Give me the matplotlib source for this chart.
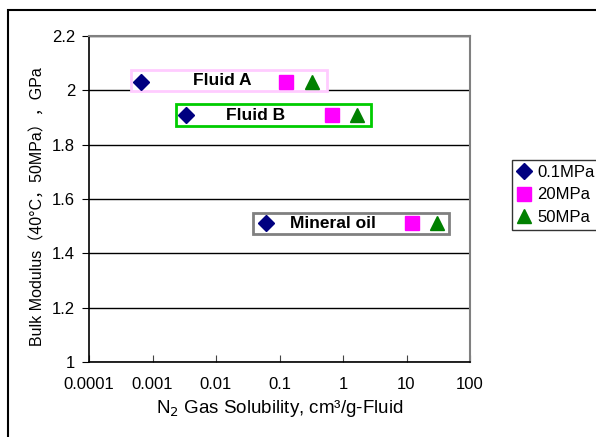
import numpy as np
import matplotlib.pyplot as plt
from matplotlib.patches import Rectangle
from matplotlib.ticker import FixedLocator, FixedFormatter, NullLocator

plt.rcParams['font.family'] = ['Liberation Sans', 'Noto Sans CJK JP', 'DejaVu Sans']

# data
fluids = ["Fluid A", "Fluid B", "Mineral oil"]
pressures = ["0.1MPa", "20MPa", "50MPa"]
# N2 solubility [cm3/g] per fluid, columns = pressures
solubility = [[0.00066, 0.125, 0.32],
              [0.0034, 0.68, 1.66],
              [0.062, 12.3, 30.0]]
bulk_modulus = [2.03, 1.91, 1.51]

xticks = [0.0001, 0.001, 0.01, 0.1, 1, 10, 100]
xtick_labels = ["0.0001", "0.001", "0.01", "0.1", "1", "10", "100"]
yticks = [1, 1.2, 1.4, 1.6, 1.8, 2, 2.2]
ytick_labels = ["1", "1.2", "1.4", "1.6", "1.8", "2", "2.2"]

markers = ['D', 's', '^']
colors = ['#000080', '#ff00ff', '#008000']
msizes = [8.5, 9.5, 10]
box_colors = ['#ffccff', '#00cc00', '#808080']

fig = plt.figure(figsize=(5.96, 4.37), dpi=100)
ax = fig.add_axes([89/596, 1-362/437, (470-89)/596, (362-36)/437])

for j, p in enumerate(pressures):
    xs = [solubility[i][j] for i in range(len(fluids))]
    ax.plot(xs, bulk_modulus, linestyle='none', marker=markers[j], color=colors[j],
            ms=msizes[j], label=p, zorder=4)

ax.set_xscale('log')
ax.set_xlim(0.0001, 100)
ax.set_ylim(1, 2.2)
ax.xaxis.set_major_locator(FixedLocator(xticks))
ax.xaxis.set_major_formatter(FixedFormatter(xtick_labels))
ax.xaxis.set_minor_locator(NullLocator())
ax.set_yticks(yticks)
ax.set_yticklabels(ytick_labels)
ax.tick_params(axis='x', direction='in', length=5, labelsize=12, pad=11, color='#444444')
ax.tick_params(axis='y', direction='out', length=5, labelsize=12, pad=5, color='black')
ax.yaxis.grid(True, color='black', lw=1)
ax.set_axisbelow(True)
for s in ['top', 'right']:
    ax.spines[s].set_color('#808080')
    ax.spines[s].set_linewidth(1.5)
for s in ['left', 'bottom']:
    ax.spines[s].set_color('black')
    ax.spines[s].set_linewidth(1.2)

ax.set_xlabel("N$_2$ Gas Solubility, cm³/g-Fluid", fontsize=13.5, labelpad=4)
ax.set_ylabel("Bulk Modulus（40°C，50MPa），GPa", fontsize=11.5)
ax.yaxis.set_label_coords((45-89)/381, (362-207)/326)

# boxes around each fluid group (pixel extents converted to axes fraction)
box_px = [(131, 70, 327, 91), (176, 104, 371, 126), (253, 213, 449, 234)]
label_x = [222, 256, 333]
for i, name in enumerate(fluids):
    x0, y0, x1, y1 = box_px[i]
    ax.add_patch(Rectangle(((x0-89)/381, (362-y1)/326), (x1-x0)/381, (y1-y0)/326,
                           transform=ax.transAxes, fill=True, facecolor='white',
                           edgecolor=box_colors[i], lw=2, zorder=3, clip_on=False))
    ax.text((label_x[i]-89)/381, (362-(y0+y1)/2)/326, name, transform=ax.transAxes,
            ha='center', va='center', fontsize=12.5, fontweight='bold', zorder=5)

leg = fig.legend(loc='upper left', bbox_to_anchor=(512/596, 1-160/437), frameon=True,
                 fancybox=False, edgecolor='black', fontsize=12, handlelength=0.8,
                 handletextpad=0.4, borderpad=0.3, labelspacing=0.45, borderaxespad=0)
leg.get_frame().set_linewidth(1)

# outer figure border (left and top visible)
fig.patches.append(Rectangle((8/596, -0.1), 1.0, 1.1-10/437, transform=fig.transFigure,
                             fill=False, edgecolor='black', lw=1.5))

fig.savefig('out.png', dpi=100)
